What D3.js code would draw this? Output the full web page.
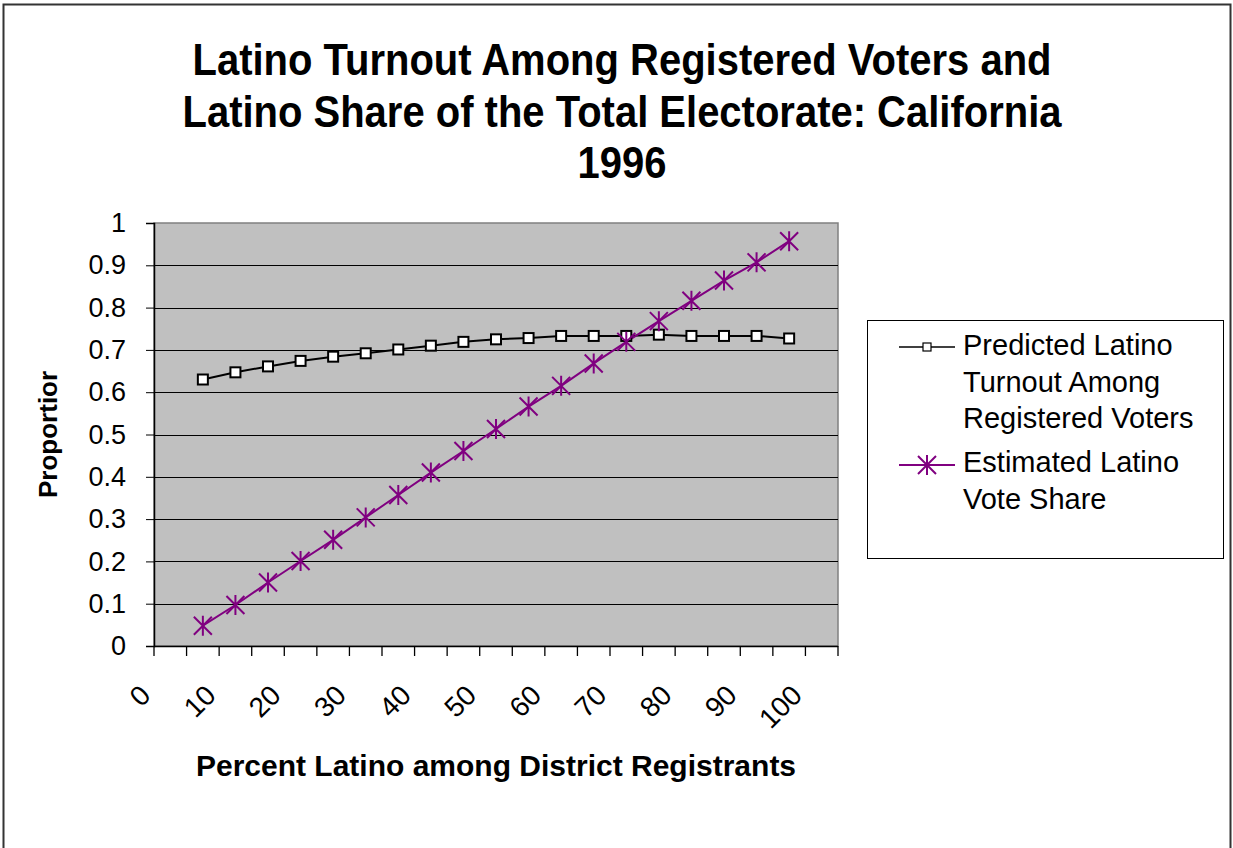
<!DOCTYPE html>
<html>
<head>
<meta charset="utf-8">
<script src="https://cdn.jsdelivr.net/npm/d3@7"></script>
<style>
  body { margin: 0; background: #fff; }
  svg { display: block; font-family: Arial, "Liberation Sans", sans-serif; }
</style>
</head>
<body>
<div id="chart"></div>
<script>
// Data
const categories = [0, 5, 10, 15, 20, 25, 30, 35, 40, 45, 50, 55, 60, 65, 70, 75, 80, 85, 90, 95, 100];
const xLabels = [0, 10, 20, 30, 40, 50, 60, 70, 80, 90, 100];
const pointX = [5, 10, 15, 20, 25, 30, 35, 40, 45, 50, 55, 60, 65, 70, 75, 80, 85, 90, 95];
const turnout = [0.630, 0.647, 0.661, 0.674, 0.684, 0.692, 0.701, 0.710, 0.719, 0.725,
                 0.728, 0.733, 0.733, 0.733, 0.736, 0.733, 0.733, 0.733, 0.727];
const voteShare = [0.048, 0.097, 0.150, 0.201, 0.251, 0.304, 0.357, 0.410, 0.461, 0.513,
                   0.566, 0.615, 0.668, 0.719, 0.768, 0.816, 0.864, 0.907, 0.957];
const yTicks = [0, 0.1, 0.2, 0.3, 0.4, 0.5, 0.6, 0.7, 0.8, 0.9, 1];
const titleLines = ["Latino Turnout Among Registered Voters and",
                    "Latino Share of the Total Electorate: California",
                    "1996"];
const seriesNames = [["Predicted Latino", "Turnout Among", "Registered Voters"],
                     ["Estimated Latino", "Vote Share"]];

const width = 1233;
const height = 848;
const plot = { left: 154, right: 838, top: 223, bottom: 646 };
const purple = "#800080";

const svg = d3.select("#chart")
    .append("svg")
    .attr("width", width)
    .attr("height", height);

svg.append("rect")
    .attr("width", width)
    .attr("height", height)
    .attr("fill", "#fff");

// outer chart border
svg.append("rect")
    .attr("x", 3.5).attr("y", 4.5)
    .attr("width", 1227).attr("height", 870)
    .attr("fill", "none")
    .attr("stroke", "#333")
    .attr("stroke-width", 2);

// Title (glyphs slightly taller than wide in the original)
svg.append("g")
    .selectAll("text")
    .data(titleLines)
    .enter()
    .append("text")
    .attr("transform", (d, i) => `translate(622,${75 + i * 51.5}) scale(1,1.12)`)
    .attr("text-anchor", "middle")
    .style("font-size", "40px")
    .style("font-weight", "bold")
    .text(d => d);

// Scales
const x = d3.scaleBand()
    .domain(categories)
    .range([plot.left, plot.right])
    .padding(0);

const y = d3.scaleLinear()
    .domain([0, 1])
    .range([plot.bottom, plot.top]);

const cx = v => x(v) + x.bandwidth() / 2;

// Plot background
svg.append("rect")
    .attr("x", plot.left)
    .attr("y", plot.top)
    .attr("width", plot.right - plot.left)
    .attr("height", plot.bottom - plot.top)
    .attr("fill", "#c0c0c0")
    .attr("stroke", "#808080")
    .attr("stroke-width", 1.5);

// Gridlines
svg.append("g")
    .selectAll("line")
    .data(yTicks.filter(d => d > 0 && d < 1))
    .enter()
    .append("line")
    .attr("x1", plot.left)
    .attr("x2", plot.right)
    .attr("y1", d => Math.round(y(d)) + 0.5)
    .attr("y2", d => Math.round(y(d)) + 0.5)
    .attr("stroke", "#000")
    .attr("stroke-width", 1);

// Y axis
const yAxis = svg.append("g")
    .attr("transform", `translate(${plot.left},0)`)
    .call(d3.axisLeft(y).tickValues(yTicks).tickSize(8).tickPadding(20)
        .tickFormat(d => d3.format("~g")(d)));
yAxis.select(".domain").attr("stroke", "#000").attr("stroke-width", 1.5);
yAxis.selectAll(".tick line").attr("stroke", "#000");
yAxis.selectAll(".tick text")
    .style("font-size", "27px")
    .style("font-family", "Arial, 'Liberation Sans', sans-serif")
    .attr("fill", "#000");

// X axis: ticks at category boundaries
const xAxisG = svg.append("g");
xAxisG.append("line")
    .attr("x1", plot.left).attr("x2", plot.right)
    .attr("y1", plot.bottom + 0.5).attr("y2", plot.bottom + 0.5)
    .attr("stroke", "#000").attr("stroke-width", 1.5);
xAxisG.selectAll("line.tick")
    .data(categories.concat(["end"]))
    .enter()
    .append("line")
    .attr("class", "tick")
    .attr("x1", d => d === "end" ? plot.right : x(d))
    .attr("x2", d => d === "end" ? plot.right : x(d))
    .attr("y1", plot.bottom)
    .attr("y2", plot.bottom + 10)
    .attr("stroke", "#000")
    .attr("stroke-width", 1.3);
xAxisG.selectAll("text")
    .data(xLabels)
    .enter()
    .append("text")
    .attr("transform", d => `translate(${cx(d) - 18},${697}) rotate(-45)`)
    .attr("text-anchor", "end")
    .style("font-size", "28px")
    .text(d => d);

// Axis titles
svg.append("text")
    .attr("x", 496)
    .attr("y", 776)
    .attr("text-anchor", "middle")
    .style("font-size", "30px")
    .style("font-weight", "bold")
    .text("Percent Latino among District Registrants");

svg.append("text")
    .attr("transform", "translate(57,498) rotate(-90)")
    .attr("text-anchor", "start")
    .style("font-size", "26px")
    .style("font-weight", "bold")
    .text("Proportior");

// Lines
const line = d3.line()
    .x((d, i) => cx(pointX[i]))
    .y(d => y(d));

svg.append("path")
    .datum(turnout)
    .attr("d", line)
    .attr("fill", "none")
    .attr("stroke", "#000")
    .attr("stroke-width", 2);

svg.append("path")
    .datum(voteShare)
    .attr("d", line)
    .attr("fill", "none")
    .attr("stroke", purple)
    .attr("stroke-width", 2);

const starPath = "M-9,-9L9,9M-9,9L9,-9M0,-10L0,10";

svg.append("g")
    .selectAll("rect")
    .data(turnout)
    .enter()
    .append("rect")
    .attr("x", (d, i) => cx(pointX[i]) - 5)
    .attr("y", d => y(d) - 5)
    .attr("width", 10)
    .attr("height", 10)
    .attr("fill", "#fff")
    .attr("stroke", "#000")
    .attr("stroke-width", 2);

svg.append("g")
    .selectAll("path")
    .data(voteShare)
    .enter()
    .append("path")
    .attr("transform", (d, i) => `translate(${cx(pointX[i])},${y(d)})`)
    .attr("d", starPath)
    .attr("fill", "none")
    .attr("stroke", purple)
    .attr("stroke-width", 2);

// Legend
const legend = svg.append("g");
legend.append("rect")
    .attr("x", 867.5).attr("y", 320.5)
    .attr("width", 356).attr("height", 238)
    .attr("fill", "#fff")
    .attr("stroke", "#000")
    .attr("stroke-width", 1);

const legendY = [347, 465];
legend.selectAll("line.key")
    .data(legendY)
    .enter()
    .append("line")
    .attr("x1", 899).attr("x2", 955)
    .attr("y1", d => d).attr("y2", d => d)
    .attr("stroke", (d, i) => i === 0 ? "#000" : purple)
    .attr("stroke-width", (d, i) => i === 0 ? 1.5 : 2);

legend.append("rect")
    .attr("x", 927 - 4).attr("y", legendY[0] - 4)
    .attr("width", 8).attr("height", 8)
    .attr("fill", "#fff").attr("stroke", "#000").attr("stroke-width", 1.2);

legend.append("path")
    .attr("transform", `translate(927,${legendY[1]})`)
    .attr("d", starPath)
    .attr("fill", "none")
    .attr("stroke", purple)
    .attr("stroke-width", 2);

seriesNames.forEach((lines, s) => {
    legend.append("text")
        .style("font-size", "29px")
        .selectAll("tspan")
        .data(lines)
        .enter()
        .append("tspan")
        .attr("x", 963)
        .attr("y", (d, i) => [355, 472][s] + i * 36.7)
        .text(d => d);
});
</script>
</body>
</html>
